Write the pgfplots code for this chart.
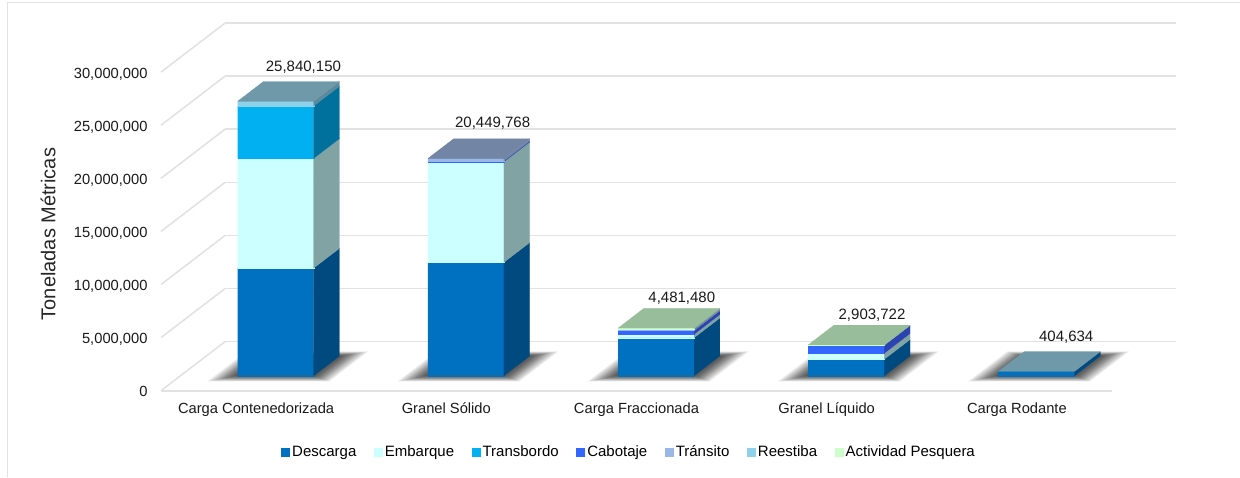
\documentclass[border=0pt]{standalone}
\usepackage{fontspec}
\setmainfont{Liberation Sans}
\usepackage{pgfplots}
\pgfplotsset{compat=1.18}

\definecolor{desc}{HTML}{0070C0}
\definecolor{descS}{HTML}{004A80}
\definecolor{emb}{HTML}{CCFFFF}
\definecolor{embS}{HTML}{82A3A3}
\definecolor{trans}{HTML}{00B0F0}
\definecolor{transS}{HTML}{00709C}
\definecolor{cab}{HTML}{3366FF}
\definecolor{cabS}{HTML}{2A43B0}
\definecolor{trn}{HTML}{99B8E8}
\definecolor{trnS}{HTML}{6F86A8}
\definecolor{ree}{HTML}{8FD0EA}
\definecolor{reeS}{HTML}{5C8A9C}
\definecolor{act}{HTML}{CCFFCC}
\definecolor{actS}{HTML}{86A886}
\definecolor{gridc}{HTML}{E2E2E2}
\definecolor{lidA}{HTML}{6F99A8}
\definecolor{lidB}{HTML}{7285A5}
\definecolor{lidC}{HTML}{97BD9A}

% floor depth of the columns (0 = front edge, 1 = back wall)
\def\da{0.306}
\def\db{0.708}

% one stacked segment: x left, x right, lower, upper (Mt), front colour, side colour
\newcommand{\seg}[6]{
  \addplot3[forget plot,fill=#5,draw=#5,line width=0.2pt] coordinates {(#1,\da,#3) (#2,\da,#3) (#2,\da,#4) (#1,\da,#4) (#1,\da,#3)};
  \addplot3[forget plot,fill=#6,draw=#6,line width=0.2pt] coordinates {(#2,\da,#3) (#2,\db,#3) (#2,\db,#4) (#2,\da,#4) (#2,\da,#3)};
}
% lid of a column
\newcommand{\lid}[4]{
  \addplot3[forget plot,fill=#4,draw=#4,line width=0.2pt] coordinates {(#1,\da,#3) (#2,\da,#3) (#2,\db,#3) (#1,\db,#3) (#1,\da,#3)};
}
% blurred floor shadow, built from nested translucent sheets
\newcommand{\floorshadow}[1]{
  \foreach \hw/\dl/\dh in {0.320/0.190/0.800,0.310/0.200/0.792,0.300/0.210/0.784,0.290/0.220/0.776,0.280/0.230/0.768,0.272/0.238/0.762,0.264/0.246/0.756,0.256/0.254/0.750,0.248/0.262/0.744,0.240/0.270/0.738,0.232/0.280/0.730,0.224/0.290/0.722,0.216/0.300/0.715}{
    \pgfmathsetmacro{\xl}{#1-\hw}
    \pgfmathsetmacro{\xr}{#1+\hw}
    \edef\tmp{\noexpand\addplot3[forget plot,fill=black,fill opacity=0.075,draw=none] coordinates {(\xl,\dl,0) (\xr,\dl,0) (\xr,\dh,0) (\xl,\dh,0) (\xl,\dl,0)};}
    \tmp
  }
}

\begin{document}
\begin{tikzpicture}[x=1pt,y=1pt]
\path[use as bounding box] (0,0) rectangle (1240,477);
\draw[gridc,line width=1pt] (7.5,0) -- (7.5,474) -- (1240,474);
\node[rotate=90,font=\fontsize{20}{24}\selectfont,text=black!85] at (48,243) {Toneladas Métricas};
\begin{axis}[
  anchor=origin, at={(161pt,86.3pt)},
  x={(190.2pt,0pt)}, y={(64pt,49pt)}, z={(0pt,10.62pt)},
  xmin=0, xmax=5, ymin=0, ymax=1, zmin=0, zmax=30,
  xtick={0.5,1.5,2.5,3.5,4.5},
  xticklabels={Carga Contenedorizada,Granel Sólido,Carga Fraccionada,Granel Líquido,Carga Rodante},
  ytick=\empty,
  ztick={0,5,10,15,20,25,30},
  zticklabels={0,{5,000,000},{10,000,000},{15,000,000},{20,000,000},{25,000,000},{30,000,000}},
  z grid style={gridc,line width=1.6pt},
  zmajorgrids=true, xmajorgrids=false, ymajorgrids=false,
  axis line style={draw=none},
  major tick length=0pt,
  tick label style={font=\fontsize{14.7}{17}\selectfont,text=black!90},
  zticklabel pos=left,
  xticklabel pos=left,
  zticklabel style={anchor=east,xshift=-10pt,yshift=-1pt,text height=10.5pt,text depth=0pt},
  xticklabel style={anchor=north,yshift=-8pt,text height=11pt,text depth=3pt},
  clip=false,
  legend columns=-1,
  legend style={at={(rel axis cs:0,0,0)},anchor=north west,xshift=117pt,yshift=-51pt,draw=none,fill=none,
    font=\fontsize{15}{17}\selectfont,
    /tikz/every even column/.append style={column sep=15.5pt}},
  legend image code/.code={\fill[#1,draw=none] (0pt,-4.5pt) rectangle (9pt,4.5pt);},
]
% floor front edge
\addplot3[forget plot,gridc,line width=1.6pt] coordinates {(0,0,0) (5,0,0)};

\floorshadow{0.5}
\floorshadow{1.5}
\floorshadow{2.5}
\floorshadow{3.5}
\floorshadow{4.5}

% Carga Contenedorizada
\seg{0.3}{0.7}{0}{10.14}{desc}{descS}
\seg{0.3}{0.7}{10.14}{20.47}{emb}{embS}
\seg{0.3}{0.7}{20.47}{25.40}{trans}{transS}
\seg{0.3}{0.7}{25.40}{25.84015}{ree}{reeS}
\lid{0.3}{0.7}{25.84015}{lidA}
% Granel Sólido
\seg{1.3}{1.7}{0}{10.68}{desc}{descS}
\seg{1.3}{1.7}{10.68}{20.15}{emb}{embS}
\seg{1.3}{1.7}{20.15}{20.23}{cab}{cabS}
\seg{1.3}{1.7}{20.23}{20.449768}{trn}{trnS}
\lid{1.3}{1.7}{20.449768}{lidB}
% Carga Fraccionada
\seg{2.3}{2.7}{0}{3.58}{desc}{descS}
\seg{2.3}{2.7}{3.58}{3.91}{emb}{embS}
\seg{2.3}{2.7}{3.91}{4.25}{cab}{cabS}
\seg{2.3}{2.7}{4.25}{4.43}{trn}{trnS}
\seg{2.3}{2.7}{4.43}{4.48148}{act}{actS}
\lid{2.3}{2.7}{4.48148}{lidC}
% Granel Líquido
\seg{3.3}{3.7}{0}{1.55}{desc}{descS}
\seg{3.3}{3.7}{1.55}{2.12}{emb}{embS}
\seg{3.3}{3.7}{2.12}{2.87}{cab}{cabS}
\seg{3.3}{3.7}{2.87}{2.903722}{act}{actS}
\lid{3.3}{3.7}{2.903722}{lidC}
% Carga Rodante
\seg{4.3}{4.7}{0}{0.404634}{desc}{descS}
\lid{4.3}{4.7}{0.404634}{lidA}

\node[font=\fontsize{15}{18}\selectfont,text=black!90,yshift=14pt,xshift=2pt] at (axis cs:0.5,\db,25.84015) {25,840,150};
\node[font=\fontsize{15}{18}\selectfont,text=black!90,yshift=16pt,xshift=1pt] at (axis cs:1.5,\db,20.449768) {20,449,768};
\node[font=\fontsize{15}{18}\selectfont,text=black!90,yshift=10pt] at (axis cs:2.5,\db,4.48148) {4,481,480};
\node[font=\fontsize{15}{18}\selectfont,text=black!90,yshift=10pt] at (axis cs:3.5,\db,2.903722) {2,903,722};
\node[font=\fontsize{15}{18}\selectfont,text=black!90,yshift=14pt,xshift=4pt] at (axis cs:4.5,\db,0.404634) {404,634};

\addlegendimage{fill=desc}\addlegendentry{Descarga}
\addlegendimage{fill=emb}\addlegendentry{Embarque}
\addlegendimage{fill=trans}\addlegendentry{Transbordo}
\addlegendimage{fill=cab}\addlegendentry{Cabotaje}
\addlegendimage{fill=trn}\addlegendentry{Tránsito}
\addlegendimage{fill=ree}\addlegendentry{Reestiba}
\addlegendimage{fill=act}\addlegendentry{Actividad Pesquera}
\end{axis}
\end{tikzpicture}
\end{document}
